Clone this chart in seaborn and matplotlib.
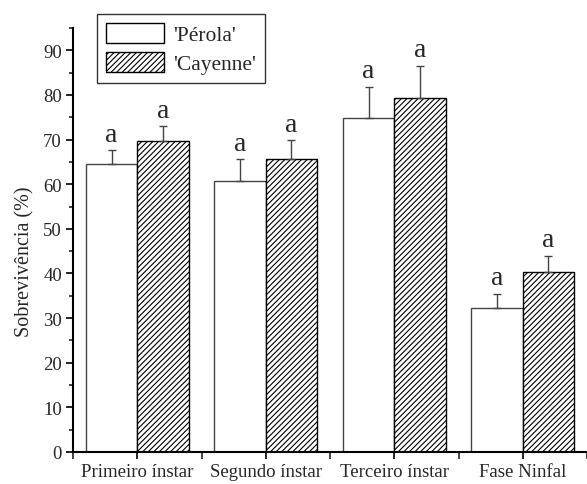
import pandas as pd
import numpy as np
import seaborn as sns
import matplotlib.pyplot as plt
from matplotlib.patches import Patch
from matplotlib.ticker import MultipleLocator

estagios = ["Primeiro ínstar", "Segundo ínstar", "Terceiro ínstar", "Fase Ninfal"]
cultivares = ["'Pérola'", "'Cayenne'"]
perola = [64.6, 60.8, 74.9, 32.2]
perola_erro = [3.0, 4.8, 6.9, 3.2]
cayenne = [69.7, 65.6, 79.4, 40.4]
cayenne_erro = [3.3, 4.2, 7.1, 3.5]
letras = ["a", "a", "a", "a"]

df = pd.DataFrame({
    "estagio": estagios * 2,
    "cultivar": [cultivares[0]] * 4 + [cultivares[1]] * 4,
    "sobrev": perola + cayenne,
})

sns.set_style("ticks")
plt.rcParams["font.family"] = ["Liberation Serif", "DejaVu Serif"]
plt.rcParams["hatch.linewidth"] = 0.8

fig = plt.figure(figsize=(5.87, 4.85), dpi=100)
ax = fig.add_axes([73 / 587, 32 / 485, 1 - 73 / 587, 424 / 485])

sns.barplot(data=df, x="estagio", y="sobrev", hue="cultivar", order=estagios,
            hue_order=cultivares, palette=["white", "white"], width=0.8,
            errorbar=None, legend=False, ax=ax)

n = len(estagios)
for i, p in enumerate(ax.patches[:2 * n]):
    if i < n:
        p.set_edgecolor("#444444")
    else:
        p.set_edgecolor("black")
        p.set_hatch("//////")
    p.set_linewidth(1.0)

# barras de erro (apenas para cima) e letras
x = np.arange(n)
for desloc, vals, errs in [(-0.2, perola, perola_erro), (0.2, cayenne, cayenne_erro)]:
    ax.errorbar(x + desloc, vals, yerr=[np.zeros(n), errs], fmt="none",
                ecolor="#444444", elinewidth=1.0, capsize=3, capthick=1.0)
    for xi, v, e, l in zip(x + desloc, vals, errs, letras):
        ax.text(xi, v + e + 0.8, l, ha="center", va="bottom", fontsize=20)

ax.set_ylim(0, 95)
ax.set_xlim(-0.5, -0.5 + 514 / 130)
ax.yaxis.set_major_locator(MultipleLocator(10))
ax.yaxis.set_minor_locator(MultipleLocator(5))
ax.set_yticks(range(0, 100, 10))
ax.set_xticks(x)
ax.set_xticklabels(estagios)
ax.set_xticks(np.arange(-0.5, 4.0, 0.5), minor=True)
ax.tick_params(axis="both", which="major", direction="out", length=5, width=1.2,
               labelsize=13.5, color="black", pad=3)
ax.tick_params(axis="y", which="minor", direction="out", length=3, width=1.2)
ax.tick_params(axis="x", which="minor", direction="out", length=5, width=1.2)
ax.set_xlabel("")
ax.set_ylabel("Sobrevivência (%)", fontsize=14.5)
ax.yaxis.set_label_coords(-0.074, 0.45)
sns.despine(ax=ax)
for s in ["left", "bottom"]:
    ax.spines[s].set_linewidth(1.5)
    ax.spines[s].set_color("black")

handles = [Patch(facecolor="white", edgecolor="black", label=cultivares[0]),
           Patch(facecolor="white", edgecolor="black", hatch="//////", label=cultivares[1])]
fig.legend(handles=handles, loc="upper left", bbox_to_anchor=(97 / 587, 1 - 15 / 485),
           fontsize=15.5, frameon=True, fancybox=False, edgecolor="black",
           handlelength=2.7, handleheight=1.1, handletextpad=0.45, borderpad=0.4,
           labelspacing=0.3, borderaxespad=0)

fig.savefig("out.png", dpi=100)
